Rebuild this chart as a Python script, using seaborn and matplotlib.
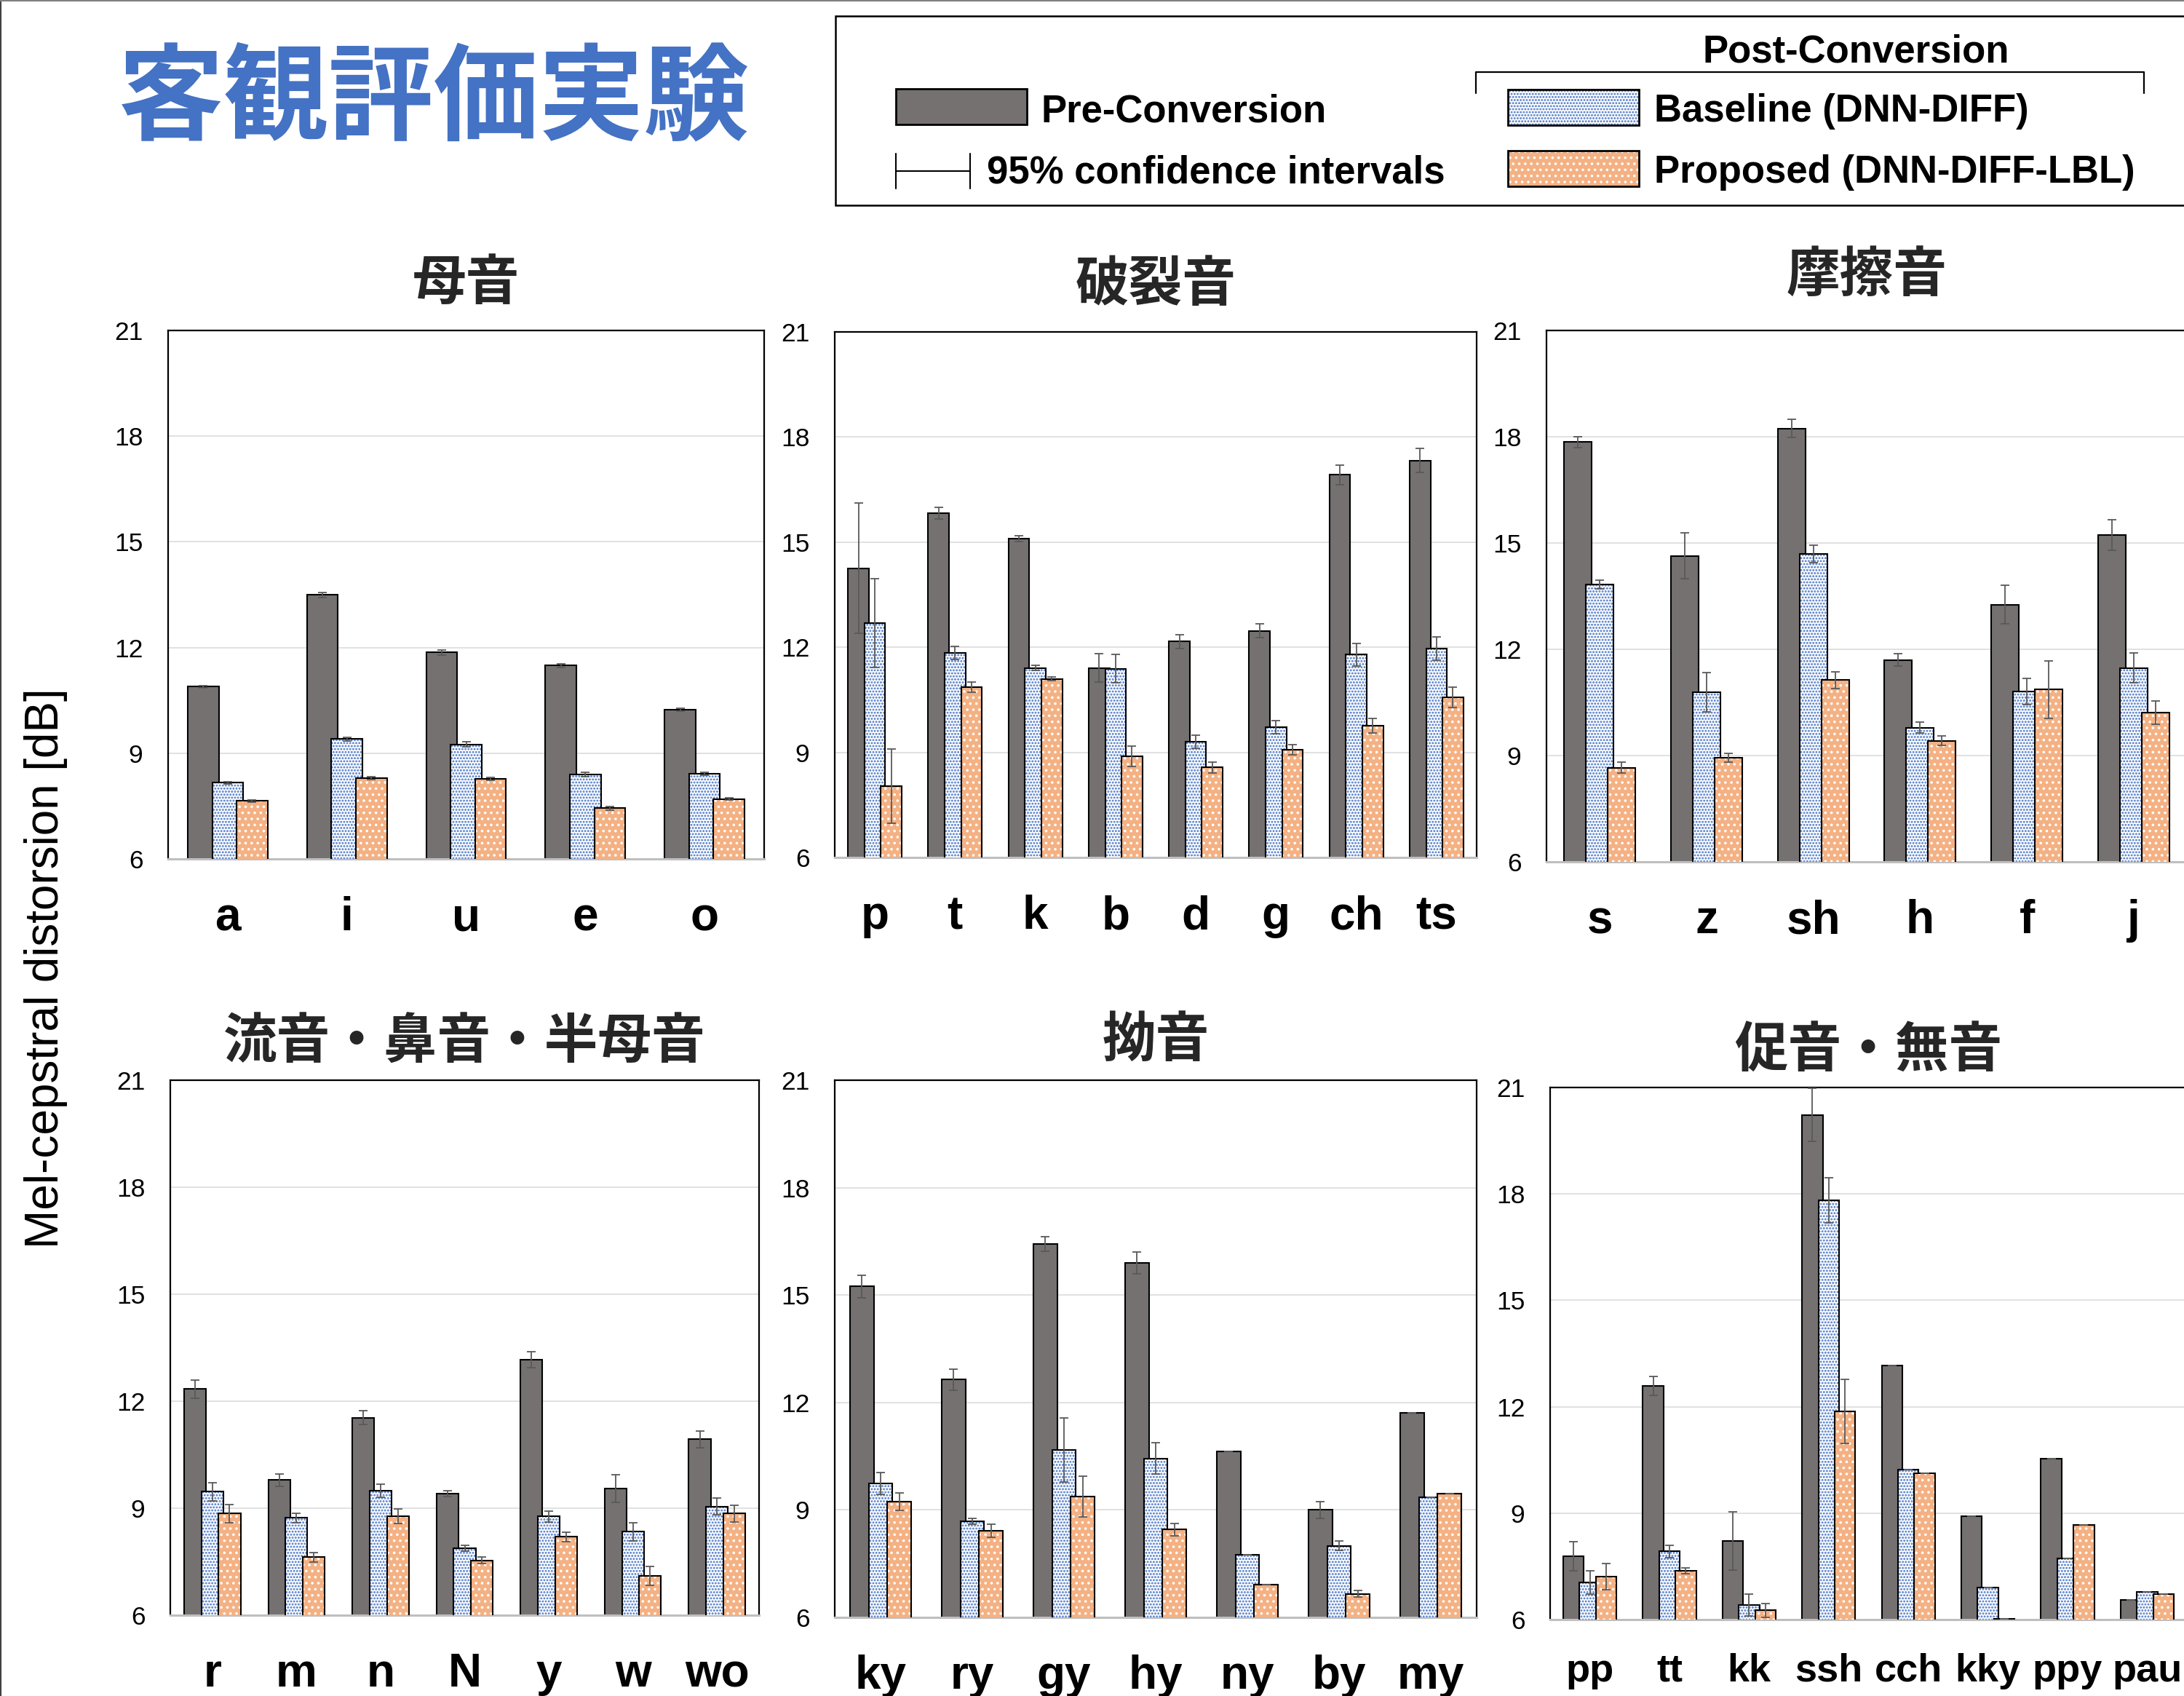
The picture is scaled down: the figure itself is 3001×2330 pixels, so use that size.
import numpy as np
import pandas as pd
import matplotlib
matplotlib.use("Agg")
import matplotlib.pyplot as plt
from matplotlib.patches import Rectangle
import seaborn as sns

# ============================================================
# 客観評価実験 : mel-cepstral distortion per phoneme class
# ============================================================

SYSTEMS = ["Pre-Conversion", "Baseline (DNN-DIFF)", "Proposed (DNN-DIFF-LBL)"]

# 母音
VOWEL = ["a", "i", "u", "e", "o"]
VOWEL_PRE = [10.89, 13.49, 11.86, 11.49, 10.24]
VOWEL_PRE_CI = [0.03, 0.08, 0.07, 0.05, 0.04]
VOWEL_BASE = [8.16, 9.40, 9.25, 8.40, 8.42]
VOWEL_BASE_CI = [0.04, 0.05, 0.07, 0.06, 0.04]
VOWEL_PROP = [7.65, 8.29, 8.27, 7.44, 7.70]
VOWEL_PROP_CI = [0.03, 0.04, 0.04, 0.05, 0.03]

# 破裂音
PLOSIVE = ["p", "t", "k", "b", "d", "g", "ch", "ts"]
PLOSIVE_PRE = [14.25, 15.83, 15.10, 11.41, 12.16, 12.47, 16.92, 17.33]
PLOSIVE_PRE_CI = [1.86, 0.16, 0.08, 0.41, 0.20, 0.20, 0.28, 0.34]
PLOSIVE_BASE = [12.69, 11.84, 11.41, 11.39, 9.30, 9.72, 11.79, 11.96]
PLOSIVE_BASE_CI = [1.27, 0.19, 0.07, 0.41, 0.19, 0.19, 0.32, 0.33]
PLOSIVE_PROP = [8.03, 10.86, 11.10, 8.89, 8.57, 9.07, 9.76, 10.57]
PLOSIVE_PROP_CI = [1.06, 0.15, 0.05, 0.29, 0.15, 0.15, 0.21, 0.30]

# 摩擦音
FRICATIVE = ["s", "z", "sh", "h", "f", "j"]
FRICATIVE_PRE = [17.85, 14.64, 18.23, 11.70, 13.26, 15.22]
FRICATIVE_PRE_CI = [0.16, 0.64, 0.26, 0.18, 0.54, 0.43]
FRICATIVE_BASE = [13.83, 10.79, 14.69, 9.79, 10.81, 11.47]
FRICATIVE_BASE_CI = [0.12, 0.56, 0.25, 0.16, 0.37, 0.42]
FRICATIVE_PROP = [8.66, 8.94, 11.13, 9.42, 10.86, 10.22]
FRICATIVE_PROP_CI = [0.16, 0.12, 0.24, 0.14, 0.81, 0.33]

# 流音・鼻音・半母音
LIQUID = ["r", "m", "n", "N", "y", "w", "wo"]
LIQUID_PRE = [12.34, 9.79, 11.54, 9.41, 13.16, 9.55, 10.93]
LIQUID_PRE_CI = [0.26, 0.17, 0.20, 0.09, 0.23, 0.38, 0.23]
LIQUID_BASE = [9.46, 8.73, 9.49, 7.88, 8.77, 8.34, 9.05]
LIQUID_BASE_CI = [0.26, 0.13, 0.19, 0.08, 0.15, 0.26, 0.23]
LIQUID_PROP = [8.85, 7.63, 8.78, 7.54, 8.20, 7.10, 8.85]
LIQUID_PROP_CI = [0.26, 0.13, 0.20, 0.09, 0.13, 0.26, 0.23]

# 拗音
PALATAL = ["ky", "ry", "gy", "hy", "ny", "by", "my"]
PALATAL_PRE = [15.24, 12.64, 16.42, 15.90, 10.63, 9.00, 11.72]
PALATAL_PRE_CI = [0.31, 0.29, 0.20, 0.31, 0.0, 0.23, 0.0]
PALATAL_BASE = [9.74, 8.69, 10.67, 10.44, 7.75, 8.00, 9.36]
PALATAL_BASE_CI = [0.31, 0.08, 0.89, 0.44, 0.0, 0.14, 0.0]
PALATAL_PROP = [9.23, 8.42, 9.37, 8.45, 6.92, 6.66, 9.46]
PALATAL_PROP_CI = [0.25, 0.18, 0.57, 0.17, 0.0, 0.09, 0.0]

# 促音・無音
GEMINATE = ["pp", "tt", "kk", "ssh", "cch", "kky", "ppy", "pau"]
GEMINATE_PRE = [7.79, 12.59, 8.21, 20.23, 13.17, 8.91, 10.53, 6.55]
GEMINATE_PRE_CI = [0.41, 0.26, 0.82, 0.74, 0.0, 0.0, 0.0, 0.0]
GEMINATE_BASE = [7.04, 7.92, 6.41, 17.82, 10.23, 6.90, 7.72, 6.77]
GEMINATE_BASE_CI = [0.33, 0.18, 0.31, 0.64, 0.0, 0.0, 0.0, 0.0]
GEMINATE_PROP = [7.21, 7.37, 6.26, 11.87, 10.13, 6.03, 8.67, 6.72]
GEMINATE_PROP_CI = [0.37, 0.08, 0.19, 0.91, 0.0, 0.0, 0.0, 0.0]

PANELS = [
    ("母音", VOWEL, [VOWEL_PRE, VOWEL_BASE, VOWEL_PROP],
     [VOWEL_PRE_CI, VOWEL_BASE_CI, VOWEL_PROP_CI]),
    ("破裂音", PLOSIVE, [PLOSIVE_PRE, PLOSIVE_BASE, PLOSIVE_PROP],
     [PLOSIVE_PRE_CI, PLOSIVE_BASE_CI, PLOSIVE_PROP_CI]),
    ("摩擦音", FRICATIVE, [FRICATIVE_PRE, FRICATIVE_BASE, FRICATIVE_PROP],
     [FRICATIVE_PRE_CI, FRICATIVE_BASE_CI, FRICATIVE_PROP_CI]),
    ("流音・鼻音・半母音", LIQUID, [LIQUID_PRE, LIQUID_BASE, LIQUID_PROP],
     [LIQUID_PRE_CI, LIQUID_BASE_CI, LIQUID_PROP_CI]),
    ("拗音", PALATAL, [PALATAL_PRE, PALATAL_BASE, PALATAL_PROP],
     [PALATAL_PRE_CI, PALATAL_BASE_CI, PALATAL_PROP_CI]),
    ("促音・無音", GEMINATE, [GEMINATE_PRE, GEMINATE_BASE, GEMINATE_PROP],
     [GEMINATE_PRE_CI, GEMINATE_BASE_CI, GEMINATE_PROP_CI]),
]

# ---- style ----
FILL = {SYSTEMS[0]: "#767171", SYSTEMS[1]: "#FFFFFF", SYSTEMS[2]: "#F4B183"}
HATCH = ["", "....", ".."]
HATCH_COLOR = ["#767171", "#4472C4", "#FFFFFF"]
ERR_COLOR = "#595959"
BLUE = "#4472C4"

W, H = 3001, 2330
# axes boxes in pixels: left, top, right, bottom
AX_BOXES = [(231, 454, 1050, 1180), (1147, 456, 2029, 1178), (2125, 454, 3005, 1184),
            (234, 1484, 1043, 2219), (1147, 1484, 2029, 2222), (2130, 1494, 3005, 2225)]
TITLE_Y = [390, 392, 379, 1433, 1430, 1444]
XLABEL_SIZE = [46, 46, 46, 46, 46, 39]
XLABEL_PAD = [37, 37, 37, 37, 37, 33]

sns.set_theme(style="white")
plt.rcParams["font.family"] = ["Liberation Sans", "Noto Sans CJK JP", "DejaVu Sans"]
plt.rcParams["hatch.linewidth"] = 1.4
JP = ["Noto Sans CJK JP", "DejaVu Sans"]


def fx(x):
    return x / W


def fy(y):
    return 1 - y / H


def style_bars(ax):
    """fill pass -> hatch colour; outline pass -> black edges; widen + overlap"""
    for i, cont in enumerate(ax.containers):
        level = i % 3
        outline = i >= 3
        for p in cont.patches:
            cx = p.get_x() + p.get_width() / 2
            p.set_x(cx - 0.13)
            p.set_width(0.26)
            if outline:
                p.set_facecolor("none")
                p.set_edgecolor("black")
                p.set_linewidth(1.5)
                p.set_zorder(2.5 + level)
            else:
                p.set_hatch(HATCH[level])
                p.set_edgecolor(HATCH_COLOR[level])
                p.set_linewidth(0)
                p.set_zorder(2 + level)


fig = plt.figure(figsize=(W / 100, H / 100), dpi=100)

for idx, (title, cats, vals, cis) in enumerate(PANELS):
    l, t, r, b = AX_BOXES[idx]
    ax = fig.add_axes([fx(l), fy(b), fx(r - l), (b - t) / H])
    df = pd.DataFrame({
        "phone": np.tile(cats, 3),
        "system": np.repeat(SYSTEMS, len(cats)),
        "value": np.concatenate(vals),
    })
    for _ in range(2):
        sns.barplot(data=df, x="phone", y="value", hue="system", order=cats,
                    hue_order=SYSTEMS, palette=FILL, width=0.615, saturation=1,
                    errorbar=None, legend=False, ax=ax)
    style_bars(ax)

    # 95% confidence intervals
    for level in range(3):
        for p in ax.containers[level].patches:
            cx = p.get_x() + p.get_width() / 2
            k = int(round(cx))
            ax.errorbar(cx, vals[level][k], yerr=cis[level][k], fmt="none",
                        ecolor=ERR_COLOR, elinewidth=1.3, capsize=4.5,
                        capthick=1.3, zorder=6)

    ax.set_xlim(-0.5, len(cats) - 0.5)
    ax.set_ylim(6, 21)
    ax.set_yticks([6, 9, 12, 15, 18, 21])
    ax.set_axisbelow(True)
    ax.yaxis.grid(True, color="#D9D9D9", linewidth=1.1)
    ax.xaxis.grid(False)
    ax.set_xlabel("")
    ax.set_ylabel("")
    for side in ["top", "left", "right"]:
        ax.spines[side].set_color("black")
        ax.spines[side].set_linewidth(1.6)
    ax.spines["bottom"].set_color("#BFBFBF")
    ax.spines["bottom"].set_linewidth(2.2)
    ax.tick_params(axis="both", length=0)
    ax.tick_params(axis="y", pad=25, labelsize=25.5, labelcolor="black")
    ax.tick_params(axis="x", pad=XLABEL_PAD[idx], labelsize=XLABEL_SIZE[idx],
                   labelcolor="black")
    for lab in ax.get_xticklabels():
        lab.set_fontweight("bold")

    fig.text(fx((l + r) / 2), fy(TITLE_Y[idx]), title, ha="center", va="center",
             fontsize=53, fontweight="bold", family=JP)

# ---- figure-level decorations (pixel coordinates) ----
deco = fig.add_axes([0, 0, 1, 1], zorder=10)
deco.set_xlim(0, W)
deco.set_ylim(H, 0)
deco.set_axis_off()

deco.plot([1, 1], [0, H], color="#404040", lw=1.5, clip_on=False)
deco.plot([0, W], [1, 1], color="#808080", lw=1.5, clip_on=False)

fig.text(fx(596), fy(138), "客観評価実験", ha="center", va="center",
         fontsize=104, fontweight="bold", color=BLUE, family=JP)
fig.text(fx(63), fy(1330), "Mel-cepstral distorsion [dB]", rotation=90,
         ha="center", va="center", fontsize=46, color="black")

# legend box
deco.add_patch(Rectangle((1148, 22), 1900, 260, facecolor="white",
                         edgecolor="black", lw=1.8, clip_on=False))


def legend_patch(x, y, level):
    deco.add_patch(Rectangle((x, y), 180, 49, facecolor=FILL[SYSTEMS[level]],
                             edgecolor=HATCH_COLOR[level], hatch=HATCH[level], lw=0))
    deco.add_patch(Rectangle((x, y), 180, 49, facecolor="none",
                             edgecolor="black", lw=2.0))


legend_font = dict(fontsize=38, fontweight="bold", color="black", va="baseline")
legend_patch(1231, 122, 0)
deco.text(1431, 167, SYSTEMS[0], **legend_font)

deco.plot([1231, 1333], [235, 235], color="black", lw=1.5)
deco.plot([1231, 1231], [211, 259], color="black", lw=1.5)
deco.plot([1333, 1333], [211, 259], color="black", lw=1.5)
deco.text(1356, 252, "95% confidence intervals", **legend_font)

deco.text(2550, 85, "Post-Conversion", ha="center", **legend_font)
deco.plot([2028, 2028, 2946, 2946], [128, 99, 99, 128], color="black", lw=1.6)

legend_patch(2072, 123, 1)
deco.text(2273, 167, SYSTEMS[1], **legend_font)
legend_patch(2072, 207, 2)
deco.text(2273, 251, SYSTEMS[2], **legend_font)

fig.savefig("out.png", dpi=100)
